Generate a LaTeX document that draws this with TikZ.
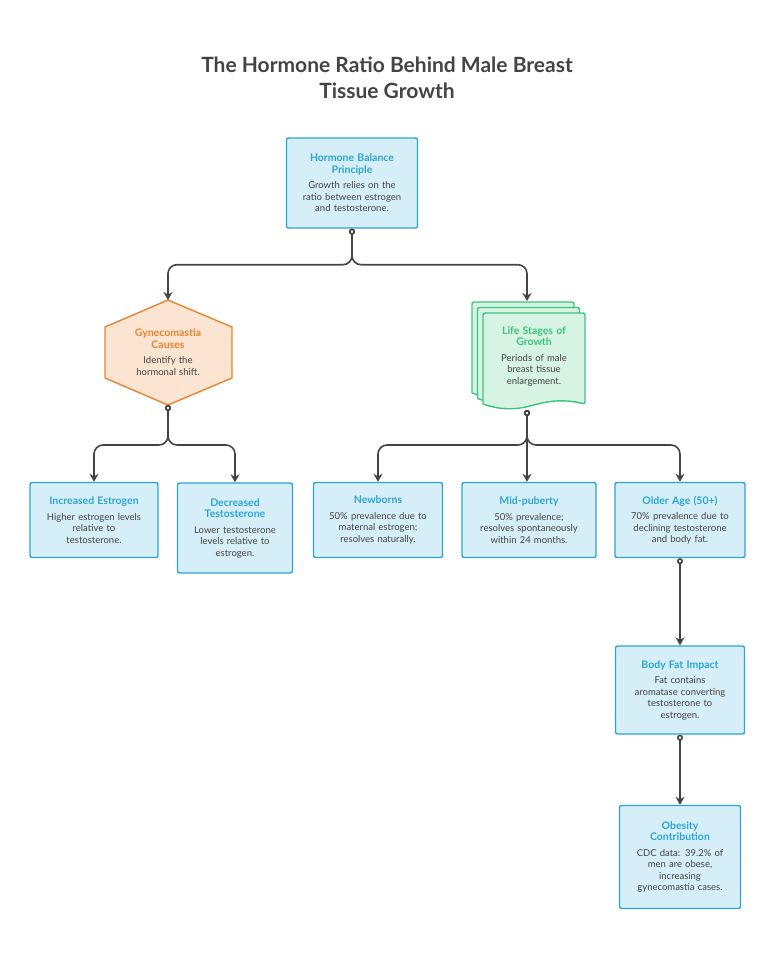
\documentclass[tikz,border=0pt]{standalone}
\usepackage{fontspec}
\setmainfont{Lato}
\usetikzlibrary{arrows.meta}
\definecolor{boxfill}{HTML}{D6EEF8}
\definecolor{boxline}{HTML}{2BA6D6}
\definecolor{orfill}{HTML}{FBE4D2}
\definecolor{orline}{HTML}{E8832F}
\definecolor{grfill}{HTML}{D7F3E3}
\definecolor{grline}{HTML}{3EC27F}
\definecolor{ink}{HTML}{444444}
\tikzset{
  box/.style={draw=boxline, fill=boxfill, line width=1.4pt, rounded corners=2pt,
    align=center, inner sep=3pt, font={\fontsize{9.5}{11.5}\selectfont}, text=ink},
  lbl/.style={align=center, inner sep=0pt, font={\fontsize{9.5}{11.5}\selectfont}, text=ink},
  link/.style={draw=ink, line width=1.6pt, rounded corners=9pt,
    {Circle[open,length=6pt,width=6pt,fill=white]}-{Stealth[length=8pt,width=9pt]}},
}
\newcommand{\hdc}[2]{{\color{#1}\bfseries\fontsize{10.5}{12.5}\selectfont #2}\\[4pt]}
\newcommand{\hd}[1]{\hdc{boxline}{#1}}
\begin{document}
\begin{tikzpicture}[x=1pt,y=-1pt]
\useasboundingbox (0,0) rectangle (775,964);
% title
\node[font={\bfseries\fontsize{21}{26}\selectfont}, text=ink, align=center] (title) at (387,78)
  {The Hormone Ratio Behind Male Breast\\Tissue Growth};
% top
\node[box, minimum width=131pt, minimum height=90pt, text width=122pt] (principle) at (352,183)
  {\hd{Hormone Balance\\Principle}Growth relies on the\\ratio between estrogen\\and testosterone.};
% hexagon
\draw[orline, fill=orfill, line width=1.4pt, line join=round]
  (168,300) -- (232,327) -- (232,378) -- (168,405) -- (105,378) -- (105,327) -- cycle;
\node[lbl, text width=110pt] (causes) at (168,352)
  {\hdc{orline}{Gynecomastia\\Causes}Identify the\\hormonal shift.};
\coordinate (causesb) at (168,405);
\coordinate (causest) at (168,300);
% document stack
\foreach \d in {-11,-5.5,0}{
  \draw[grline, fill=grfill, line width=1.4pt, rounded corners=2pt]
    (483+\d,404+\d) -- (483+\d,313+\d) -- (585+\d,313+\d) -- (585+\d,404+\d)
    [sharp corners] .. controls (560+\d,398+\d) and (545+\d,402+\d) .. (530+\d,406+\d)
    .. controls (515+\d,410+\d) and (500+\d,410+\d) .. (483+\d,404+\d);
}
\node[lbl, text width=96pt] (stages) at (534,356)
  {\hdc{grline}{Life Stages of\\Growth}Periods of male\\breast tissue\\enlargement.};
\coordinate (stagest) at (527,301);
\coordinate (stagesb) at (527,410);
% second row
\node[box, minimum width=128pt, minimum height=75pt, text width=120pt] (incr) at (94,520)
  {\hd{Increased Estrogen}Higher estrogen levels\\relative to\\testosterone.};
\node[box, minimum width=115pt, minimum height=90pt, text width=108pt] (decr) at (235,528)
  {\hd{Decreased\\Testosterone}Lower testosterone\\levels relative to\\estrogen.};
\node[box, minimum width=129pt, minimum height=75pt, text width=122pt] (newborn) at (378,520)
  {\hd{Newborns}50\% prevalence due to\\maternal estrogen;\\resolves naturally.};
\node[box, minimum width=134pt, minimum height=75pt, text width=126pt] (puberty) at (529,520)
  {\hd{Mid-puberty}50\% prevalence;\\resolves spontaneously\\within 24 months.};
\node[box, minimum width=130pt, minimum height=75pt, text width=122pt] (older) at (680,520)
  {\hd{Older Age (50+)}70\% prevalence due to\\declining testosterone\\and body fat.};
\node[box, minimum width=129pt, minimum height=88pt, text width=122pt] (bodyfat) at (680,690)
  {\hd{Body Fat Impact}Fat contains\\aromatase converting\\testosterone to\\estrogen.};
\node[box, minimum width=121pt, minimum height=103pt, text width=114pt] (obesity) at (680,857)
  {\hd{Obesity\\Contribution}CDC data: 39.2\% of\\men are obese,\\increasing\\gynecomastia cases.};
% connectors
\draw[link] (principle.south) -- ++(0,36) -| (causest);
\draw[link] (principle.south) -- ++(0,36) -| (stagest);
\draw[link] (causesb) -- ++(0,40) -| (incr.north);
\draw[link] (causesb) -- ++(0,40) -| (decr.north);
\draw[link] (stagesb) -- ++(0,35) -| (newborn.north);
\draw[link] (stagesb) -- (puberty.north -| stagesb);
\draw[link] (stagesb) -- ++(0,35) -| (older.north);
\draw[link] (older.south) -- (bodyfat.north);
\draw[link] (bodyfat.south) -- (obesity.north);
\end{tikzpicture}
\end{document}
